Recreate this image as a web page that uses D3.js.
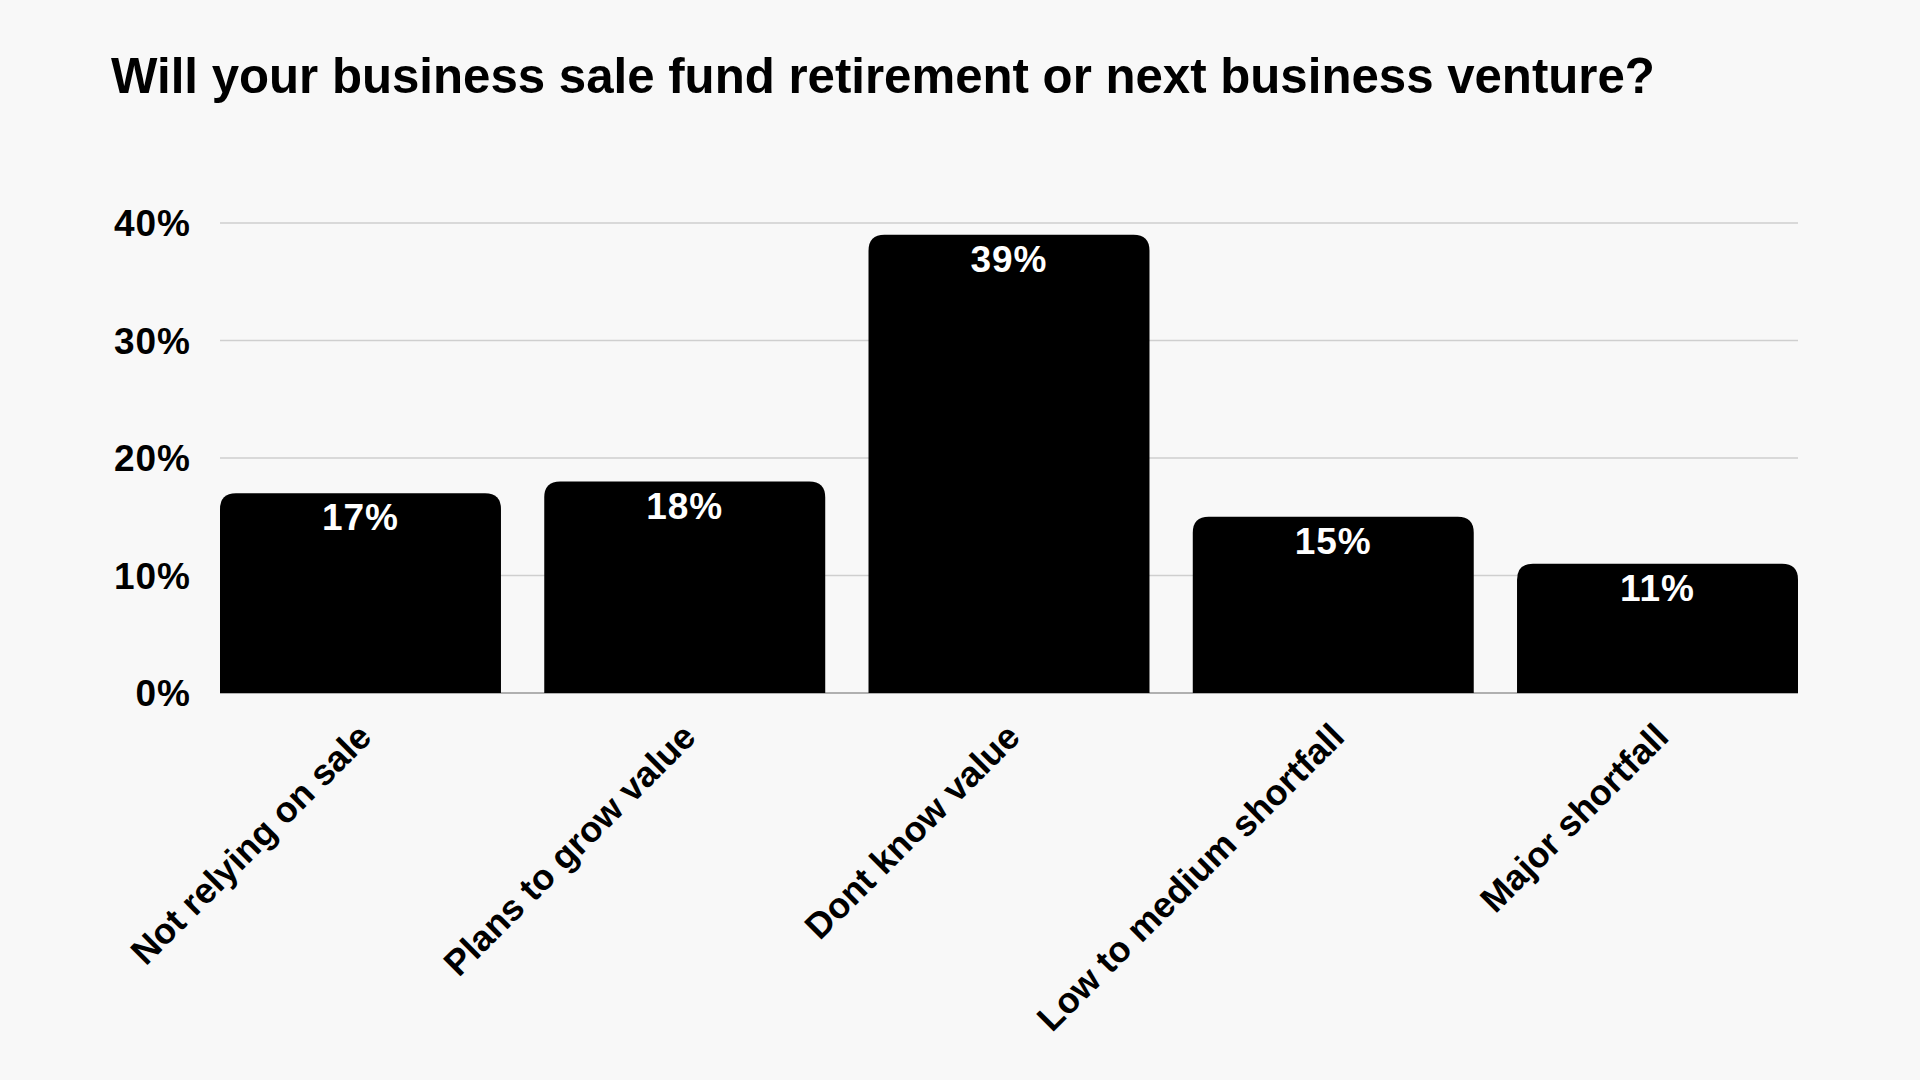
<!DOCTYPE html>
<html>
<head>
<meta charset="utf-8">
<script src="https://cdn.jsdelivr.net/npm/d3@7"></script>
<style>
  body { margin: 0; background: #f8f8f8; }
  text { font-family: "Liberation Sans", Arial, sans-serif; font-weight: bold; }
</style>
</head>
<body>
<svg id="chart" width="1920" height="1080"></svg>
<script>
/*** DATA ***/
let categories = ["Not relying on sale", "Plans to grow value", "Dont know value", "Low to medium shortfall", "Major shortfall"];
let values = [17, 18, 39, 15, 11];
let y_ticks = [0, 10, 20, 30, 40];
let title = "Will your business sale fund retirement or next business venture?";

/*** SETUP ***/
let svg = d3.select("#chart");
let margin = {top: 223, left: 220, right: 122, bottom: 387},
    width = 1920 - margin.left - margin.right,
    height = 1080 - margin.top - margin.bottom;

let x = d3.scaleBand().domain(categories).range([0, width]).paddingInner(0.1335).paddingOuter(0),
    y = d3.scaleLinear().domain([0, 40]).range([height, 0]);

svg.append("rect").attr("width", 1920).attr("height", 1080).attr("fill", "#f8f8f8");

svg.append("text")
    .attr("x", 111).attr("y", 93)
    .attr("font-size", 49.2)
    .attr("fill", "#000")
    .text(title);

let g = svg.append("g").attr("transform", `translate(${margin.left},${margin.top})`);

// gridlines
g.selectAll("line.grid")
    .data(y_ticks.filter((d) => d > 0)).enter()
    .append("line")
    .attr("x1", 0).attr("x2", width)
    .attr("y1", (d) => y(d)).attr("y2", (d) => y(d))
    .attr("stroke", "#cfcfcf").attr("stroke-width", 1.5);

g.append("line")
    .attr("x1", 0).attr("x2", width)
    .attr("y1", y(0)).attr("y2", y(0))
    .attr("stroke", "#999").attr("stroke-width", 1.5);

// y tick labels
g.selectAll("text.ytick")
    .data(y_ticks).enter()
    .append("text")
    .attr("x", -29)
    .attr("y", (d) => y(d))
    .attr("dy", "0.36em")
    .attr("text-anchor", "end")
    .attr("font-size", 37)
    .attr("letter-spacing", 1)
    .text((d) => d + "%");

// bars with rounded top corners
let r = 16;
function bar_path(d, i) {
    let x0 = x(categories[i]), x1 = x0 + x.bandwidth(), y0 = y(0), yt = y(d);
    return `M${x0},${y0}V${yt + r}Q${x0},${yt} ${x0 + r},${yt}H${x1 - r}Q${x1},${yt} ${x1},${yt + r}V${y0}Z`;
}

g.selectAll("path.bar")
    .data(values).enter()
    .append("path")
    .attr("d", bar_path)
    .attr("fill", "#000");

g.selectAll("text.value")
    .data(values).enter()
    .append("text")
    .attr("x", (d, i) => x(categories[i]) + x.bandwidth() / 2)
    .attr("y", (d) => y(d) + 37)
    .attr("text-anchor", "middle")
    .attr("font-size", 37)
    .attr("letter-spacing", 1)
    .attr("fill", "#fff")
    .text((d) => d + "%");

// x labels
g.selectAll("text.xlabel")
    .data(categories).enter()
    .append("text")
    .attr("transform", (d) => `translate(${x(d) + x.bandwidth() / 2 + 13},${height + 46}) rotate(-45)`)
    .attr("text-anchor", "end")
    .attr("font-size", 36)
    .text((d) => d);
</script>
</body>
</html>
